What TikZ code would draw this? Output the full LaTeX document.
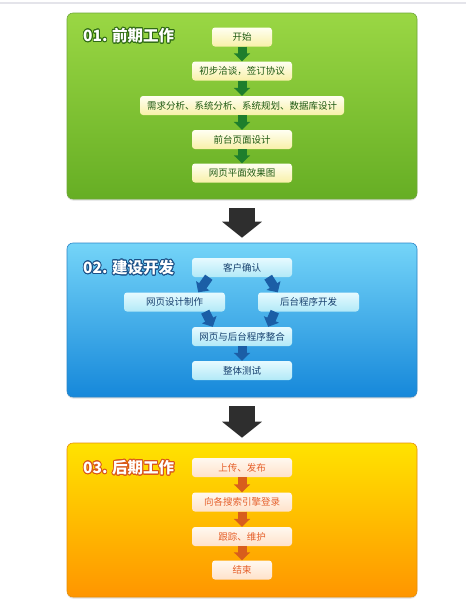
\documentclass[tikz,border=0pt]{standalone}
\usepackage{fontspec}
\setmainfont{Noto Sans CJK SC}
\usepackage{contour}
\contourlength{0.85pt}
\usetikzlibrary{arrows.meta,shadows,calc}
\definecolor{gTop}{HTML}{9AD744}
\definecolor{gBot}{HTML}{66AE24}
\definecolor{gBorder}{HTML}{6FA83A}
\definecolor{gText}{HTML}{1F5A12}
\definecolor{gArrow}{HTML}{1E7E2C}
\definecolor{gLine}{HTML}{2F6A14}
\definecolor{bTop}{HTML}{74D4F8}
\definecolor{bBot}{HTML}{1688DA}
\definecolor{bBorder}{HTML}{2C86C8}
\definecolor{bText}{HTML}{17406E}
\definecolor{bArrow}{HTML}{1B5EA6}
\definecolor{bLine}{HTML}{1B4F86}
\definecolor{oTop}{HTML}{FFE300}
\definecolor{oBot}{HTML}{FF9500}
\definecolor{oBorder}{HTML}{E8900A}
\definecolor{oText}{HTML}{E55F2A}
\definecolor{oArrow}{HTML}{D85E1C}
\definecolor{oLine}{HTML}{D9561A}
\definecolor{topLine}{HTML}{E4E4EA}
\definecolor{bigArrow}{HTML}{2E2E2E}
\definecolor{gBoxTop}{HTML}{FFFFF2}
\definecolor{gBoxBot}{HTML}{F8F0A8}
\definecolor{bBoxTop}{HTML}{E6FAFF}
\definecolor{bBoxBot}{HTML}{B2E9F7}
\definecolor{oBoxTop}{HTML}{FFF8F0}
\definecolor{oBoxBot}{HTML}{FFE2CA}
\tikzset{
  panel/.style={rounded corners=6pt, minimum width=350pt, inner sep=0pt, line width=0.6pt,
    drop shadow={opacity=0.25, shadow xshift=0pt, shadow yshift=-1.5pt}},
  box/.style={rounded corners=3pt, minimum height=19pt, inner sep=0pt,
    font=\fontsize{9.5}{10}\selectfont},
  gbox/.style={box, top color=gBoxTop, bottom color=gBoxBot, text=gText},
  bbox/.style={box, top color=bBoxTop, bottom color=bBoxBot, text=bText},
  obox/.style={box, top color=oBoxTop, bottom color=oBoxBot, text=oText},
  title/.style={anchor=west, inner sep=0pt, text=white, font=\fontsize{15.5}{16}\selectfont\bfseries},
  garrow/.style={draw=gArrow, line width=9pt, -{Triangle[width=16pt,length=8pt]}},
  barrow/.style={draw=bArrow, line width=9pt, -{Triangle[width=16pt,length=8pt]}},
  oarrow/.style={draw=oArrow, line width=9pt, -{Triangle[width=16pt,length=8pt]}},
  bigarrow/.style={draw=bigArrow, line width=26pt, -{Triangle[width=39pt,length=16pt]},
    shorten <=9pt, shorten >=5pt},
}
\begin{document}
\begin{tikzpicture}[x=1pt,y=-1pt]
\useasboundingbox (0,0) rectangle (466,611);
\fill[white] (0,0) rectangle (466,611);
\draw[topLine, line width=2pt] (0,3) -- (466,3);

% panels
\node[panel, draw=gBorder, top color=gTop, bottom color=gBot, minimum height=186pt] (p1) at (242,106) {};
\node[panel, draw=bBorder, top color=bTop, bottom color=bBot, minimum height=154pt] (p2) at (242,320) {};
\node[panel, draw=oBorder, top color=oTop, bottom color=oBot, minimum height=154pt] (p3) at (242,520) {};

% titles
\node[title] (t1) at (83,36) {\contour{gLine}{01. 前期工作}};
\node[title] (t2) at (83,268) {\contour{bLine}{02. 建设开发}};
\node[title] (t3) at (83,468) {\contour{oLine}{03. 后期工作}};

% panel 1 nodes
\node[gbox, minimum width=60pt] (a1) at (242,37) {开始};
\node[gbox, minimum width=100pt] (a2) at (242,71) {初步洽谈，签订协议};
\node[gbox, minimum width=204pt] (a3) at (242,105.5) {需求分析、系统分析、系统规划、数据库设计};
\node[gbox, minimum width=100pt] (a4) at (242,139.5) {前台页面设计};
\node[gbox, minimum width=100pt] (a5) at (242,173) {网页平面效果图};
\draw[garrow] (a1) -- (a2);
\draw[garrow] (a2) -- (a3);
\draw[garrow] (a3) -- (a4);
\draw[garrow] (a4) -- (a5);

% panel 2 nodes
\node[bbox, minimum width=100pt] (b1) at (242,267.5) {客户确认};
\node[bbox, minimum width=101pt] (b2) at (174.5,302) {网页设计制作};
\node[bbox, minimum width=101pt] (b3) at (308.5,302) {后台程序开发};
\node[bbox, minimum width=100pt] (b4) at (242,336.5) {网页与后台程序整合};
\node[bbox, minimum width=100pt] (b5) at (242,370.5) {整体测试};
\draw[barrow] ($(b1.south west)+(17,0)$) -- ($(b2.north east)+(-27,0)$);
\draw[barrow] ($(b1.south east)+(-24,0)$) -- ($(b3.north west)+(20,0)$);
\draw[barrow] ($(b2.south east)+(-20,0)$) -- ($(b4.north west)+(21,0)$);
\draw[barrow] ($(b3.south west)+(17,0)$) -- ($(b4.north east)+(-24,0)$);
\draw[barrow] (b4) -- (b5);

% panel 3 nodes
\node[obox, minimum width=100pt] (c1) at (242,467.5) {上传、发布};
\node[obox, minimum width=100pt] (c2) at (242,502) {向各搜索引擎登录};
\node[obox, minimum width=100pt] (c3) at (242,536.5) {跟踪、维护};
\node[obox, minimum width=60pt] (c4) at (242,570) {结束};
\draw[oarrow] (c1) -- (c2);
\draw[oarrow] (c2) -- (c3);
\draw[oarrow] (c3) -- (c4);

% big arrows
\draw[bigarrow] (p1) -- (p2);
\draw[bigarrow] (p2) -- (p3);
\end{tikzpicture}
\end{document}
